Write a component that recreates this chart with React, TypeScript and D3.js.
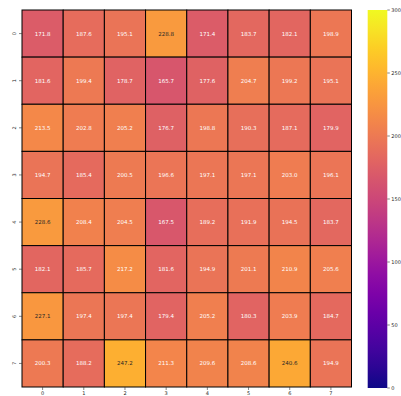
import React from "react";
import * as d3 from "d3";

const rowLabels = ["0", "1", "2", "3", "4", "5", "6", "7"];
const colLabels = ["0", "1", "2", "3", "4", "5", "6", "7"];

const row0 = [171.8, 187.6, 195.1, 228.8, 171.4, 183.7, 182.1, 198.9];
const row1 = [181.6, 199.4, 178.7, 165.7, 177.6, 204.7, 199.2, 195.1];
const row2 = [213.5, 202.8, 205.2, 176.7, 198.8, 190.3, 187.1, 179.9];
const row3 = [194.7, 185.4, 200.5, 196.6, 197.1, 197.1, 203.0, 196.1];
const row4 = [228.6, 208.4, 204.5, 167.5, 189.2, 191.9, 194.5, 183.7];
const row5 = [182.1, 185.7, 217.2, 181.6, 194.9, 201.1, 210.9, 205.6];
const row6 = [227.1, 197.4, 197.4, 179.4, 205.2, 180.3, 203.9, 184.7];
const row7 = [200.3, 188.2, 247.2, 211.3, 209.6, 208.6, 240.6, 194.9];
const rows = [row0, row1, row2, row3, row4, row5, row6, row7];

const colorDomain = [0, 300];
const colorTicks = [0, 50, 100, 150, 200, 250, 300];

const W = 401;
const H = 396;
const plot = { left: 22, top: 10, right: 351.5, bottom: 387 };
const bar = { left: 367.7, right: 387.3, top: 10, bottom: 388 };
const font = "DejaVu Sans, sans-serif";

function luminance(c: string) {
  const rgb = d3.rgb(c);
  const ch = [rgb.r, rgb.g, rgb.b].map((v) => {
    const s = v / 255;
    return s <= 0.03928 ? s / 12.92 : Math.pow((s + 0.055) / 1.055, 2.4);
  });
  return 0.2126 * ch[0] + 0.7152 * ch[1] + 0.0722 * ch[2];
}

export default function App() {
  const x = d3.scaleBand<string>().domain(colLabels).range([plot.left, plot.right]);
  const y = d3.scaleBand<string>().domain(rowLabels).range([plot.top, plot.bottom]);
  const color = d3.scaleSequential(d3.interpolatePlasma).domain(colorDomain as [number, number]);
  const cy = d3.scaleLinear().domain(colorDomain).range([bar.bottom, bar.top]);
  const stops = d3.range(0, 1.0001, 0.05);

  return (
    <svg
      width={W}
      height={H}
      style={{ position: "absolute", left: 0, top: 0, background: "#fff" }}
    >
      <defs>
        <linearGradient id="plasmaBar" x1="0" y1="1" x2="0" y2="0">
          {stops.map((t) => (
            <stop key={t} offset={t} stopColor={d3.interpolatePlasma(t)} />
          ))}
        </linearGradient>
      </defs>

      {rows.map((vals, ri) =>
        vals.map((v, ci) => {
          const fill = color(v);
          const txt = luminance(fill) > 0.408 ? "#262626" : "#ffffff";
          const cx = x(colLabels[ci])!;
          const cyy = y(rowLabels[ri])!;
          return (
            <g key={`${ri}-${ci}`}>
              <rect
                x={cx}
                y={cyy}
                width={x.bandwidth()}
                height={y.bandwidth()}
                fill={fill}
                stroke="#000"
                strokeWidth={1}
              />
              <text
                x={cx + x.bandwidth() / 2}
                y={cyy + y.bandwidth() / 2}
                textAnchor="middle"
                dominantBaseline="central"
                fontFamily={font}
                fontSize={5.5}
                fill={txt}
              >
                {v.toFixed(1)}
              </text>
            </g>
          );
        })
      )}

      {/* row axis */}
      {rowLabels.map((r) => {
        const py = y(r)! + y.bandwidth() / 2;
        return (
          <g key={`ry${r}`}>
            <line x1={plot.left - 3} x2={plot.left} y1={py} y2={py} stroke="#333" strokeWidth={0.6} />
            <text
              transform={`translate(${plot.left - 6},${py}) rotate(-90)`}
              textAnchor="middle"
              fontFamily={font}
              fontSize={5}
              fill="#262626"
            >
              {r}
            </text>
          </g>
        );
      })}

      {/* column axis */}
      {colLabels.map((c) => {
        const px = x(c)! + x.bandwidth() / 2;
        return (
          <g key={`cx${c}`}>
            <line x1={px} x2={px} y1={plot.bottom} y2={plot.bottom + 3} stroke="#333" strokeWidth={0.6} />
            <text
              x={px}
              y={plot.bottom + 7.8}
              textAnchor="middle"
              fontFamily={font}
              fontSize={5}
              fill="#262626"
            >
              {c}
            </text>
          </g>
        );
      })}

      {/* colour bar */}
      <rect
        x={bar.left}
        y={bar.top}
        width={bar.right - bar.left}
        height={bar.bottom - bar.top}
        fill="url(#plasmaBar)"
      />
      {colorTicks.map((t) => (
        <g key={`ct${t}`}>
          <line x1={bar.right} x2={bar.right + 2.5} y1={cy(t)} y2={cy(t)} stroke="#333" strokeWidth={0.6} />
          <text
            x={bar.right + 4}
            y={cy(t)}
            dominantBaseline="central"
            fontFamily={font}
            fontSize={5}
            fill="#262626"
          >
            {t}
          </text>
        </g>
      ))}
    </svg>
  );
}
